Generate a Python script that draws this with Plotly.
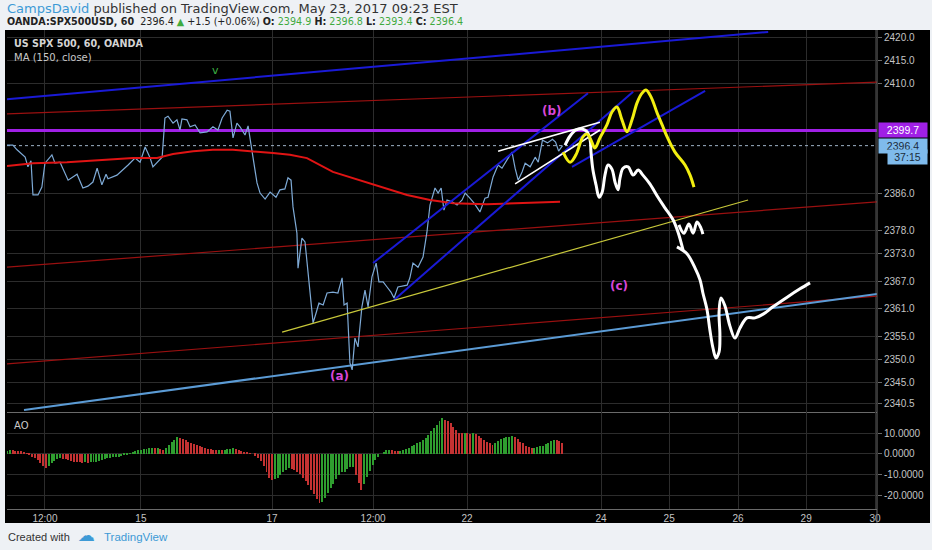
import plotly.graph_objects as go

# x = trading hours since the first bar on the chart (1 bar = 1 hour)
day_ticks = [13.6, 48, 95, 131.2, 164.9, 212.9, 237.3, 262, 286.4, 311.1]
day_labels = ["12:00", "15", "17", "12:00", "22", "24", "25", "26", "29", "30"]

price_ticks = [2420, 2415, 2410, 2386, 2378, 2373, 2367, 2361, 2355, 2350, 2345, 2340.5]
ao_ticks = [10, 0, -10, -20]

# SPX500 hourly close
price_t = [0, 2.1, 3.6, 6.5, 7.5, 8.6, 9.3, 11.1, 12.5, 13.6, 16.1, 17.2, 19.0, 21.9, 25.1,
           27.2, 29.0, 30.8, 32.3, 34.0, 35.5, 36.2, 39.4, 41.6, 43.4, 45.9, 47.7, 49.5,
           51.3, 52.3, 53.8, 55.6, 56.6, 57.7, 59.5, 60.9, 62.0, 62.7, 64.5, 65.6, 67.4,
           69.2, 71.7, 73.8, 75.6, 77.1, 78.9, 79.9, 81.0, 82.4, 83.5, 85.3, 86.4, 87.8,
           89.6, 90.7, 92.5, 94.3, 96.4, 97.8, 99.6, 100.7, 101.8, 102.5, 103.9, 104.3,
           105.7, 106.8, 107.9, 109.7, 110.8, 111.8, 113.3, 114.7, 116.8, 118.6, 120.1,
           120.8, 121.9, 122.9, 123.7, 124.7, 125.8, 127.2, 128.3, 129.4, 130.8, 132.3,
           133.3, 134.8, 136.2, 137.6, 138.7, 140.1, 143.4, 144.4, 145.5, 147.3, 149.1,
           150.5, 151.6, 153.4, 154.5, 155.6, 156.6, 157.7, 159.5, 161.3, 163.1, 164.2,
           165.9, 167.4, 169.5, 171.3, 172.4, 174.2, 176.0, 177.4, 179.2, 181.0, 182.1,
           183.2, 184.6, 185.7, 187.5, 189.3, 190.4, 191.9, 193.7, 195.5, 196.6, 197.7, 199.1]
price_v = [2396.5, 2396.5, 2395.5, 2393.9, 2391.8, 2393.1, 2385.7, 2385.7, 2387.4, 2392.6,
           2394.4, 2392.6, 2392.8, 2388.9, 2390.2, 2387.2, 2387.6, 2388.5, 2391.5, 2387.9,
           2390.2, 2389.2, 2390.0, 2391.1, 2392.2, 2393.7, 2392.8, 2396.1, 2393.7, 2391.8,
           2392.8, 2393.9, 2402.4, 2402.8, 2401.3, 2402.0, 2399.8, 2402.2, 2402.0, 2400.5,
           2400.9, 2399.2, 2399.4, 2400.5, 2399.8, 2402.4, 2404.1, 2403.9, 2398.1, 2401.3,
           2400.5, 2398.7, 2400.7, 2395.5, 2388.3, 2386.1, 2384.8, 2386.3, 2385.2, 2386.8,
           2387.0, 2389.4, 2388.9, 2383.1, 2377.4, 2369.8, 2376.3, 2375.5, 2368.7, 2357.9,
           2360.1, 2362.2, 2361.8, 2364.4, 2364.6, 2364.4, 2367.7, 2361.8, 2362.2, 2349.2,
           2347.7, 2354.6, 2352.7, 2361.4, 2365.0, 2361.4, 2367.9, 2370.9, 2366.8, 2366.8,
           2365.7, 2364.6, 2363.3, 2365.7, 2366.1, 2367.7, 2370.9, 2370.0, 2372.2, 2377.6,
           2383.5, 2387.2, 2386.1, 2387.2, 2382.4, 2384.6, 2384.2, 2383.5, 2384.6, 2386.1,
           2385.0, 2383.9, 2382.0, 2385.0, 2385.2, 2389.6, 2392.2, 2391.5, 2393.3, 2395.0,
           2391.5, 2388.9, 2390.7, 2392.6, 2391.8, 2393.9, 2392.8, 2397.6, 2397.0, 2397.8,
           2397.2, 2395.2, 2396.4]

# MA (150, close)
ma_t = [0, 9.3, 21.5, 33.3, 45.2, 53.8, 59.5, 66.7, 73.8, 81.0, 88.2, 95.3, 101.4, 107.5,
        116.8, 126.5, 134.8, 143.4, 151.6, 159.9, 172.0, 183.9, 198.2]
ma_v = [2392.0, 2392.6, 2392.8, 2393.3, 2393.7, 2393.7, 2394.6, 2395.2, 2395.5, 2395.5,
        2395.2, 2394.8, 2394.4, 2393.7, 2390.7, 2388.9, 2387.4, 2385.7, 2384.6, 2383.9,
        2383.7, 2383.9, 2384.2]

# Awesome Oscillator, one value per hourly bar
ao_v = [1.6, 1.8, 1.7, 1.6, 1.5, 1.2, 0.8, 0.4, -0.3, -1.2,
        -2.0, -3.0, -4.2, -5.6, -6.5, -5.6, -4.3, -3.5, -2.6, -2.0,
        -2.3, -2.6, -3.0, -3.3, -3.6, -3.7, -3.9, -4.1, -4.0, -4.1,
        -4.0, -3.9, -3.7, -3.3, -2.8, -2.4, -2.0, -1.7, -1.5, -1.3,
        -1.3, -1.0, -0.6, -0.1, 0.4, 0.9, 1.5, 1.8, 2.1, 2.4,
        2.6, 2.8, 2.8, 2.7, 2.7, 2.4, 2.1, 3.0, 4.2, 5.6,
        6.9, 8.0, 7.6, 7.0, 6.5, 5.9, 5.4, 4.8, 4.3, 3.8,
        3.4, 3.0, 2.6, 2.3, 2.1, 2.0, 2.0, 1.9, 2.0, 2.2,
        2.5, 2.8, 2.6, 2.0, 1.4, 1.0, 0.6, 0.3, 0.0, -0.8,
        -2.0, -3.5, -5.6, -8.4, -11.2, -12.4, -12.0, -11.4, -10.2, -8.8,
        -7.6, -6.8, -7.2, -7.8, -8.4, -9.6, -11.2, -13.0, -15.0, -17.0,
        -19.2, -21.4, -23.4, -22.8, -21.0, -18.6, -16.4, -14.2, -12.0, -10.0,
        -8.8, -8.4, -7.2, -6.4, -6.0, -9.8, -14.0, -17.0, -14.2, -11.0,
        -8.2, -5.4, -2.8, -1.2, 0.0, 1.0, 1.8, 2.0, 1.8, 1.6,
        1.5, 1.6, 1.8, 2.4, 3.0, 3.7, 4.3, 5.0, 5.8, 6.6,
        7.5, 9.0, 11.0, 12.6, 13.8, 15.5, 17.0, 16.4, 15.6, 14.6,
        13.0, 11.4, 10.2, 10.0, 10.2, 9.9, 9.7, 9.8, 9.6, 8.6,
        7.6, 6.8, 5.9, 5.0, 4.3, 5.2, 6.2, 7.1, 7.8, 8.2,
        8.3, 8.4, 8.0, 7.0, 5.9, 5.0, 4.0, 3.2, 2.9, 3.0,
        3.2, 3.6, 4.0, 4.6, 5.4, 6.2, 6.7, 6.6, 6.0, 5.0]

last_price = 2396.4
level_price = 2399.7

# trend lines drawn on the chart: [start, end]
blue_top_t, blue_top_v = [0, 272.8], [2406.5, 2421.1]
red_upper_t, red_upper_v = [0, 311.8], [2403.3, 2410.2]
red_mid_t, red_mid_v = [0, 311.8], [2370.0, 2384.2]
red_low_t, red_low_v = [0, 311.8], [2349.0, 2363.7]
steel_t, steel_v = [6.1, 311.8], [2339.0, 2364.2]
olive_t, olive_v = [98.6, 265.6], [2355.9, 2384.6]
chan1_t, chan1_v = [131.2, 208.2], [2370.9, 2407.8]
chan2_t, chan2_v = [138.7, 224.4], [2362.9, 2408.1]
chan3_t, chan3_v = [202.5, 250.2], [2391.8, 2408.3]
wedge_up_t, wedge_up_v = [176.0, 212.5], [2395.2, 2401.5]
wedge_lo_t, wedge_lo_v = [182.1, 212.5], [2388.1, 2399.8]

# freehand projections
yellow_t = [199.3, 201.8, 203.9, 206.4, 207.9, 209.3, 210.7, 212.5, 215.0, 216.8, 218.6,
            220.4, 222.2, 224.0, 225.8, 227.6, 229.0, 230.8, 233.0, 234.8, 236.6, 239.4,
            243.0, 244.8, 246.2]
yellow_v = [2395.0, 2392.8, 2394.4, 2398.3, 2398.9, 2397.6, 2395.9, 2398.1, 2400.9, 2403.7,
            2404.8, 2402.0, 2399.4, 2402.0, 2405.7, 2407.8, 2408.5, 2407.0, 2403.5, 2400.9,
            2398.3, 2395.0, 2392.2, 2390.0, 2387.4]
white1_t = [200.0, 201.8, 203.9, 206.1, 207.9, 209.0, 209.3, 210.0, 211.1, 212.2, 213.3,
            214.3, 215.4, 216.8, 217.9, 219.0, 219.7, 220.8, 222.6, 224.4, 226.2, 227.9,
            230.4, 233.3, 235.8, 238.7, 240.5, 242.3]
white1_v = [2396.5, 2398.5, 2399.8, 2400.0, 2399.4, 2397.6, 2395.0, 2391.1, 2387.9, 2385.2,
            2386.3, 2390.0, 2392.2, 2391.3, 2388.5, 2386.8, 2389.4, 2391.5, 2391.8, 2390.0,
            2391.1, 2390.0, 2388.1, 2385.2, 2382.9, 2380.3, 2377.6, 2373.7]
white2_t = [240.8, 242.6, 244.4, 245.9, 247.3, 248.7, 249.4]
white2_v = [2379.2, 2377.4, 2379.4, 2377.4, 2379.8, 2378.5, 2377.2]
white3_t = [240.1, 243.7, 246.6, 248.4, 249.4, 250.9, 251.9, 253.0, 254.1, 255.2, 255.5,
            255.2, 255.9, 257.3, 259.1, 260.9, 262.7, 265.2, 268.1, 271.0, 274.5, 279.6,
            284.2, 287.8]
white3_v = [2374.4, 2372.9, 2369.8, 2367.2, 2364.4, 2360.7, 2356.4, 2352.5, 2350.3, 2351.6,
            2355.3, 2360.3, 2363.3, 2361.6, 2357.2, 2354.6, 2356.8, 2359.0, 2359.0, 2359.8,
            2361.4, 2363.5, 2365.3, 2366.6]

wave_labels = ["(a)", "(b)", "(c)"]
wave_t = [119.0, 195.3, 219.3]
wave_v = [2346.4, 2403.9, 2365.9]

X_RANGE = [0, 311.8]
GRID = "#2c2c2c"
AXIS = "#6a6a6a"
LABEL = "#c4c4c4"
PAGE_BG = "#eef1f5"


def px_x(px):
    return (px - 7) / 870


def px_y(py):
    return (509 - py) / 479


fig = go.Figure()


def seg(t, v, color, width, dash=None, shape="linear"):
    fig.add_trace(go.Scatter(x=t, y=v, mode="lines", hoverinfo="skip",
                             line=dict(color=color, width=width, dash=dash, shape=shape)))


seg(red_upper_t, red_upper_v, "#9a1010", 1.2)
seg(red_mid_t, red_mid_v, "#9a1010", 1.2)
seg(red_low_t, red_low_v, "#9a1010", 1.2)
seg(steel_t, steel_v, "#5b9bd5", 2)
seg(blue_top_t, blue_top_v, "#1a1ad6", 2)
seg(X_RANGE, [level_price, level_price], "#a020e6", 3)
seg(X_RANGE, [last_price, last_price], "#9fb3c8", 1, dash="dot")
seg(price_t, price_v, "#7eaad6", 1.2)
seg(ma_t, ma_v, "#e01414", 2)
seg(chan1_t, chan1_v, "#1a1ad6", 2)
seg(chan2_t, chan2_v, "#1a1ad6", 2)
seg(chan3_t, chan3_v, "#1a1ad6", 2)
seg(olive_t, olive_v, "#c8c83a", 1.2)
seg(wedge_up_t, wedge_up_v, "#ffffff", 1.6)
seg(wedge_lo_t, wedge_lo_v, "#ffffff", 1.6)
seg(white1_t, white1_v, "#ffffff", 3, shape="spline")
seg(white2_t, white2_v, "#ffffff", 3, shape="spline")
seg(white3_t, white3_v, "#ffffff", 3, shape="spline")
seg(yellow_t, yellow_v, "#f2ee10", 3, shape="spline")

ao_t = list(range(len(ao_v)))
ao_col = ["#2f9e2f" if i == 0 or ao_v[i] >= ao_v[i - 1] else "#c43232" for i in range(len(ao_v))]
fig.add_trace(go.Bar(x=ao_t, y=ao_v, marker=dict(color=ao_col, line=dict(width=0)),
                     width=0.35, xaxis="x2", yaxis="y2", hoverinfo="skip"))

for lab, t, v in zip(wave_labels, wave_t, wave_v):
    fig.add_annotation(x=t, y=v, text="<b>" + lab + "</b>", showarrow=False,
                       font=dict(family="DejaVu Sans", size=12, color="#d846d8"))
fig.add_annotation(x=74.9, y=2412.8, text="v", showarrow=False,
                   font=dict(family="DejaVu Sans", size=11, color="#3cb043"))

# black chart canvas
fig.add_shape(type="rect", xref="paper", yref="paper", layer="below",
              x0=px_x(5), x1=px_x(930), y0=px_y(523), y1=1,
              fillcolor="#000000", line=dict(width=0))
fig.add_shape(type="line", xref="paper", yref="paper", x0=1, x1=1,
              y0=px_y(523), y1=1, line=dict(color=AXIS, width=1))

# header
green = "#3faa3f"
fig.add_annotation(xref="paper", yref="paper", x=px_x(5), y=px_y(9), xanchor="left",
                   yanchor="middle", showarrow=False, align="left",
                   text="<span style='color:#3d9ad6'>CampsDavid</span> published on TradingView.com, May 23, 2017 09:23 EST",
                   font=dict(family="DejaVu Sans", size=13, color="#333333"))
ohlc = ("<b>OANDA:SPX500USD, 60</b>&nbsp; 2396.4 <span style='color:%s'>▲</span> +1.5 (+0.06%%)"
        " <b>O:</b> <span style='color:%s'>2394.9</span> <b>H:</b> <span style='color:%s'>2396.8</span>"
        " <b>L:</b> <span style='color:%s'>2393.4</span> <b>C:</b> <span style='color:%s'>2396.4</span>"
        % (green, green, green, green, green))
fig.add_annotation(xref="paper", yref="paper", x=px_x(5), y=px_y(22), xanchor="left",
                   yanchor="middle", showarrow=False, align="left", text=ohlc,
                   font=dict(family="DejaVu Sans", size=9.6, color="#222222"))

fig.add_annotation(xref="paper", yref="paper", x=px_x(12), y=px_y(44), xanchor="left",
                   yanchor="middle", showarrow=False, text="<b>US SPX 500, 60, OANDA</b>",
                   font=dict(family="DejaVu Sans", size=9.6, color="#d4d4d4"))
fig.add_annotation(xref="paper", yref="paper", x=px_x(12), y=px_y(57), xanchor="left",
                   yanchor="middle", showarrow=False, text="MA (150, close)",
                   font=dict(family="DejaVu Sans", size=10, color="#c8c8c8"))
fig.add_annotation(xref="paper", yref="paper", x=px_x(12), y=px_y(425), xanchor="left",
                   yanchor="middle", showarrow=False, text="AO",
                   font=dict(family="DejaVu Sans", size=10, color="#c8c8c8"))

# price tags on the axis
fig.add_annotation(xref="paper", yref="y", x=px_x(878), y=level_price, xanchor="left",
                   showarrow=False, text=f"{level_price:.1f}", bgcolor="#a020e6",
                   borderpad=1, width=46, font=dict(family="Liberation Sans", size=10.5, color="#ffffff"))
fig.add_annotation(xref="paper", yref="y", x=px_x(878), y=last_price, xanchor="left",
                   showarrow=False, text=f"{last_price:.1f}", bgcolor="#7fbbec",
                   borderpad=1, width=46, font=dict(family="Liberation Sans", size=10.5, color="#1b2b3b"))
fig.add_annotation(xref="paper", yref="y", x=px_x(887), y=2394.0, xanchor="left",
                   showarrow=False, text="37:15", bgcolor="#7fbbec",
                   borderpad=1, width=37, font=dict(family="Liberation Sans", size=10.5, color="#1b2b3b"))

# footer
fig.add_annotation(xref="paper", yref="paper", x=px_x(6), y=px_y(537), xanchor="left",
                   yanchor="middle", showarrow=False, text="Created with",
                   font=dict(family="Liberation Sans", size=11, color="#333333"))
fig.add_annotation(xref="paper", yref="paper", x=px_x(76), y=px_y(535), xanchor="left",
                   yanchor="middle", showarrow=False, text="☁",
                   font=dict(family="DejaVu Sans", size=17, color="#3d9ad6"))
fig.add_annotation(xref="paper", yref="paper", x=px_x(102), y=px_y(537), xanchor="left",
                   yanchor="middle", showarrow=False, text="TradingView",
                   font=dict(family="Liberation Sans", size=11.5, color="#3d9ad6"))

tickfont = dict(family="Liberation Sans", size=10, color=LABEL)
fig.update_layout(
    width=932, height=550,
    margin=dict(l=7, r=55, t=30, b=41, autoexpand=False),
    paper_bgcolor=PAGE_BG, plot_bgcolor="#000000",
    showlegend=False, bargap=0,
    xaxis=dict(domain=[0, 1], anchor="y", range=X_RANGE, tickvals=day_ticks,
               showticklabels=False, showgrid=True, gridcolor=GRID, zeroline=False,
               showline=True, linecolor=AXIS, linewidth=1, matches="x2", automargin=False),
    yaxis=dict(domain=[97 / 479, 1], anchor="x", side="right", range=[2338.55, 2421.52],
               tickvals=price_ticks, ticktext=[f"{v:.1f}" for v in price_ticks],
               showgrid=True, gridcolor=GRID, zeroline=False, showline=False,
               ticks="outside", ticklen=4, tickcolor=AXIS, tickfont=tickfont, automargin=False),
    xaxis2=dict(domain=[0, 1], anchor="y2", range=X_RANGE, tickvals=day_ticks,
                ticktext=day_labels, showgrid=True, gridcolor=GRID, zeroline=False,
                showline=True, linecolor=AXIS, linewidth=1, ticks="", automargin=False,
                tickfont=dict(family="Liberation Sans", size=10, color=LABEL)),
    yaxis2=dict(domain=[0, 97 / 479], anchor="x2", side="right", range=[-26.2, 20],
                tickvals=ao_ticks, ticktext=[f"{v:.4f}" for v in ao_ticks],
                showgrid=True, gridcolor=GRID, zeroline=False, showline=False,
                ticks="outside", ticklen=4, tickcolor=AXIS, tickfont=tickfont, automargin=False),
)

# drop the page's default body margin so the figure sits at the window corner
fig.write_html("out.html", config={"displayModeBar": False},
               post_script="document.body.style.margin='0';"
                           "document.body.style.background='%s';" % PAGE_BG)
